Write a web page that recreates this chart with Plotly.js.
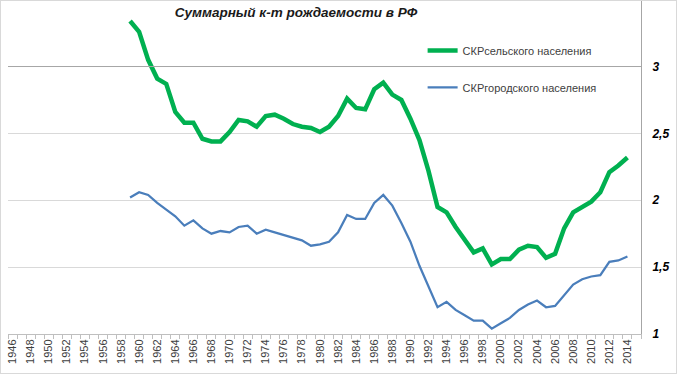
<!DOCTYPE html>
<html><head><meta charset="utf-8">
<script src="https://cdn.plot.ly/plotly-3.0.1.min.js"></script>
<style>html,body{margin:0;padding:0;background:#fff}#chart{width:677px;height:374px;box-sizing:border-box;border:1px solid #d9d9d9}</style>
</head><body><div id="chart"></div>
<script>
const years = [1959,1960,1961,1962,1963,1964,1965,1966,1967,1968,1969,1970,1971,1972,1973,1974,1975,1976,1977,1978,1979,1980,1981,1982,1983,1984,1985,1986,1987,1988,1989,1990,1991,1992,1993,1994,1995,1996,1997,1998,1999,2000,2001,2002,2003,2004,2005,2006,2007,2008,2009,2010,2011,2012,2013,2014];
const rural = [3.34,3.26,3.05,2.91,2.87,2.66,2.58,2.58,2.46,2.44,2.44,2.51,2.60,2.59,2.55,2.63,2.64,2.61,2.57,2.55,2.54,2.51,2.55,2.63,2.76,2.69,2.68,2.83,2.88,2.79,2.75,2.61,2.45,2.22,1.95,1.91,1.80,1.70,1.61,1.64,1.52,1.56,1.56,1.63,1.66,1.65,1.57,1.60,1.79,1.91,1.95,1.99,2.06,2.21,2.26,2.32];
const urban = [2.02,2.06,2.04,1.98,1.93,1.88,1.81,1.85,1.79,1.75,1.77,1.76,1.80,1.81,1.75,1.78,1.76,1.74,1.72,1.70,1.66,1.67,1.69,1.76,1.89,1.86,1.86,1.98,2.04,1.96,1.83,1.69,1.51,1.35,1.20,1.24,1.18,1.14,1.10,1.10,1.04,1.08,1.12,1.18,1.22,1.25,1.20,1.21,1.29,1.37,1.41,1.43,1.44,1.54,1.55,1.58];
const seriesNames = ['СКРсельского населения','СКРгородского населения'];
const chartTitle = 'Суммарный к-т рождаемости в РФ';

const traces = [
  {x: years, y: rural, name: seriesNames[0], type: 'scatter', mode: 'lines', legendgroup: 'a',
   line: {color: '#00b050', width: 4.5}},
  {x: years, y: urban, name: seriesNames[1], type: 'scatter', mode: 'lines', legendgroup: 'b',
   line: {color: '#4a7ebb', width: 2.25}}
];
const layout = {
  width: 675, height: 372,
  margin: {l: 7, r: 35, t: 0, b: 39},
  paper_bgcolor: '#fff', plot_bgcolor: '#fff',
  separators: ', ',
  font: {family: 'Liberation Sans, Arial, sans-serif', color: '#404040'},
  title: {text: chartTitle, x: 0.437, xanchor: 'center', xref: 'container', y: 0.97, yref: 'container', yanchor: 'middle',
    font: {size: 13.5, weight: 'bold', style: 'italic', color: '#1a1a1a'}},
  xaxis: {range: [1945.5, 2015.5], tick0: 1946, dtick: 2, tickangle: -90, ticks: '',
    showgrid: false, zeroline: false, showline: true, linecolor: '#bfbfbf', linewidth: 1,
    tickfont: {size: 11, color: '#404040'},
    minor: {tick0: 1945.5, dtick: 1, ticks: 'outside', ticklen: 4, tickcolor: '#bfbfbf', showgrid: false}},
  yaxis: {range: [1, 3.49], tick0: 1, dtick: 0.5, side: 'right', showgrid: true, gridcolor: '#d9d9d9',
    zeroline: false, showline: true, linecolor: '#a6a6a6', ticks: '', ticklabelstandoff: 8,
    tickfont: {size: 12, weight: 'bold', style: 'italic', color: '#000'}},
  shapes: [{type: 'line', xref: 'paper', x0: 0, x1: 1, yref: 'y', y0: 3, y1: 3, line: {color: '#a6a6a6', width: 1}}],
  legend: {x: 0.655, y: 0.895, xanchor: 'left', yanchor: 'top', traceorder: 'grouped', tracegroupgap: 18,
    bgcolor: 'rgba(0,0,0,0)', font: {size: 11, color: '#404040'}},
  showlegend: true
};
Plotly.newPlot('chart', traces, layout, {displayModeBar: false, staticPlot: true});
</script></body></html>
